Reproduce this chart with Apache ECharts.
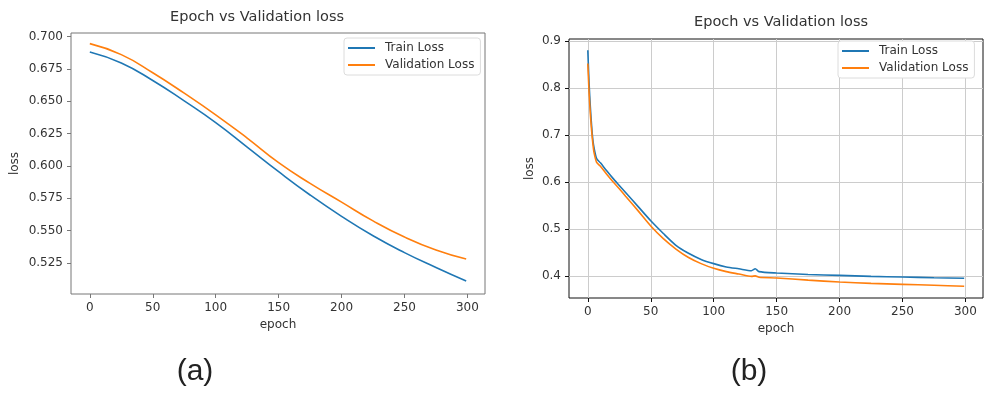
<!DOCTYPE html>
<html>
<head>
<meta charset="utf-8">
<script src="https://cdn.jsdelivr.net/npm/echarts@6/dist/echarts.min.js"></script>
<style>
html,body{margin:0;padding:0;background:#fff;}
#chart{width:1000px;height:396px;}
</style>
</head>
<body>
<div id="chart"></div>
<script>
// ---- data ----
const seriesNames = ['Train Loss', 'Validation Loss'];

// panel (a)
const epochsA = [0, 25, 50, 75, 100, 125, 150, 175, 200, 225, 250, 275, 299];
const trainA  = [0.688, 0.6795, 0.666, 0.6502, 0.6334, 0.6145, 0.5955, 0.5775, 0.561, 0.546, 0.533, 0.5215, 0.511];
const valA    = [0.6945, 0.686, 0.672, 0.6562, 0.6395, 0.6215, 0.6025, 0.5865, 0.572, 0.5575, 0.545, 0.535, 0.528];

// panel (b)
const epochsB = [0, 1, 2, 3, 4, 5, 7, 10, 15, 20, 25, 30, 40, 50, 60, 70, 80, 90, 100, 110, 120, 130, 133, 136, 150, 175, 200, 225, 250, 275, 299];
const trainB  = [0.880, 0.81, 0.76, 0.72, 0.69, 0.672, 0.65, 0.641, 0.624, 0.608, 0.593, 0.578, 0.548, 0.518, 0.491, 0.466, 0.449, 0.436, 0.427, 0.420, 0.416, 0.412, 0.416, 0.410, 0.407, 0.404, 0.402, 0.400, 0.3985, 0.397, 0.396];
const valB    = [0.852, 0.79, 0.745, 0.71, 0.682, 0.662, 0.642, 0.634, 0.617, 0.601, 0.586, 0.570, 0.539, 0.507, 0.480, 0.458, 0.440, 0.427, 0.417, 0.410, 0.405, 0.400, 0.401, 0.398, 0.3965, 0.392, 0.388, 0.385, 0.383, 0.381, 0.379];

// ticks
const xTicks  = [0, 50, 100, 150, 200, 250, 300];
const yTicksA = [0.525, 0.55, 0.575, 0.6, 0.625, 0.65, 0.675, 0.7];
const yTicksB = [0.4, 0.5, 0.6, 0.7, 0.8, 0.9];

// texts
const titleText = 'Epoch vs Validation loss';
const xName = 'epoch';
const yName = 'loss';
const panelLabels = ['(a)', '(b)'];

// ---- build ----
const BLUE = '#1f77b4', ORANGE = '#ff7f0e';
const FONT = 'DejaVu Sans';
const pairs = (xs, ys) => xs.map((x, i) => [x, ys[i]]);

function xAxisFor(gi, frameColor, grid, gap) {
  return {
    type: 'value', gridIndex: gi, min: -14.95, max: 313.95,
    axisLine: {show: false, onZero: false},
    axisTick: {show: true, customValues: xTicks, length: 4, lineStyle: {color: frameColor, width: 1}},
    axisLabel: {customValues: xTicks, color: '#333', fontSize: 12, fontFamily: FONT, margin: 8},
    splitLine: {show: grid, lineStyle: {color: '#cccccc', width: 1}},
    name: xName, nameLocation: 'middle', nameGap: gap,
    nameTextStyle: {color: '#333', fontSize: 12, fontFamily: FONT}
  };
}
function yAxisFor(gi, min, max, ticks, digits, frameColor, grid, gap) {
  return {
    type: 'value', gridIndex: gi, min: min, max: max,
    axisLine: {show: false, onZero: false},
    axisTick: {show: true, customValues: ticks, length: 4, lineStyle: {color: frameColor, width: 1}},
    axisLabel: {customValues: ticks, color: '#333', fontSize: 12, fontFamily: FONT, margin: 8,
      formatter: v => Number(v).toFixed(digits)},
    splitLine: {show: grid, lineStyle: {color: '#cccccc', width: 1}},
    name: yName, nameLocation: 'middle', nameGap: gap, nameRotate: 90,
    nameTextStyle: {color: '#333', fontSize: 12, fontFamily: FONT}
  };
}
function line(name, gi, data, color, smooth) {
  return {
    name: name, type: 'line', xAxisIndex: gi, yAxisIndex: gi, data: data,
    showSymbol: false, smooth: smooth,
    lineStyle: {color: color, width: 1.6}, itemStyle: {color: color},
    animation: false
  };
}
function legendAt(left, top) {
  return {
    data: seriesNames, orient: 'vertical', left: left, top: top,
    icon: 'rect', itemWidth: 27, itemHeight: 2, itemGap: 5,
    padding: [4, 6, 4, 4],
    backgroundColor: '#fff', borderColor: '#dcdcdc', borderWidth: 1, borderRadius: 3,
    textStyle: {color: '#333', fontSize: 12, fontFamily: FONT, padding: [0, 0, 0, 5]},
    selectedMode: false
  };
}

const chart = echarts.init(document.getElementById('chart'), null, {renderer: 'canvas'});
chart.setOption({
  backgroundColor: '#fff',
  animation: false,
  grid: [
    {left: 71, top: 33, width: 414, height: 261, show: true, borderColor: '#777', borderWidth: 1, backgroundColor: 'transparent'},
    {left: 569, top: 39, width: 414, height: 259, show: true, borderColor: '#111', borderWidth: 1, backgroundColor: 'transparent'}
  ],
  xAxis: [xAxisFor(0, '#777', false, 22), xAxisFor(1, '#111', true, 24)],
  yAxis: [
    yAxisFor(0, 0.5010, 0.7027, yTicksA, 3, '#777', false, 50),
    yAxisFor(1, 0.354, 0.904, yTicksB, 1, '#111', true, 33)
  ],
  legend: [legendAt(344, 38), legendAt(838, 41)],
  series: [
    line(seriesNames[0], 0, pairs(epochsA, trainA), BLUE, 0.5),
    line(seriesNames[1], 0, pairs(epochsA, valA), ORANGE, 0.5),
    line(seriesNames[0], 1, pairs(epochsB, trainB), BLUE, 0.25),
    line(seriesNames[1], 1, pairs(epochsB, valB), ORANGE, 0.25)
  ],
  graphic: [
    {type: 'text', x: 257, y: 17, style: {text: titleText, fill: '#333', font: '14.5px "DejaVu Sans"', align: 'center', verticalAlign: 'middle'}},
    {type: 'text', x: 781, y: 22, style: {text: titleText, fill: '#333', font: '14.5px "DejaVu Sans"', align: 'center', verticalAlign: 'middle'}},
    {type: 'text', x: 195, y: 372, style: {text: panelLabels[0], fill: '#222', font: '30px "Liberation Sans"', align: 'center', verticalAlign: 'middle'}},
    {type: 'text', x: 749, y: 372, style: {text: panelLabels[1], fill: '#222', font: '30px "Liberation Sans"', align: 'center', verticalAlign: 'middle'}}
  ]
});
</script>
</body>
</html>
